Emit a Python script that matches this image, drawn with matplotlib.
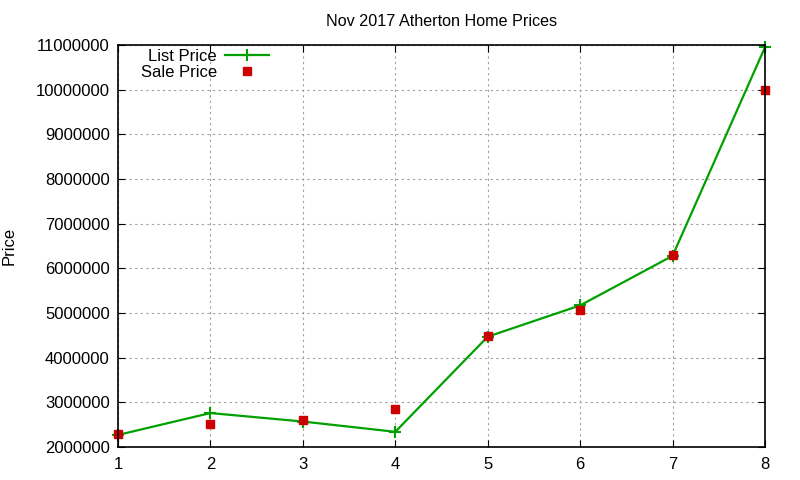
import matplotlib
matplotlib.use('Agg')
import matplotlib.pyplot as plt
from matplotlib.ticker import FuncFormatter, MultipleLocator

# data
listings = [1, 2, 3, 4, 5, 6, 7, 8]
list_price = [2270000, 2760000, 2570000, 2340000, 4470000, 5170000, 6280000, 10950000]
sale_price = [2290000, 2510000, 2610000, 2860000, 4480000, 5060000, 6290000, 10000000]

plt.rcParams['font.family'] = ['Liberation Sans', 'DejaVu Sans']

fig = plt.figure(figsize=(8, 4.8), dpi=100)
ax = fig.add_axes([118 / 800, 1 - 447 / 480, (765 - 118) / 800, (447 - 45) / 480])

ax.plot(listings, list_price, color='#00a000', lw=1.6, marker='+', ms=8, mew=1.5,
        label='List Price', clip_on=False)
ax.plot(listings, sale_price, ls='none', marker='s', ms=6, color='#cc0000',
        label='Sale Price', clip_on=False)

ax.set_xlim(1, 8)
ax.set_ylim(2000000, 11000000)
ax.yaxis.set_major_locator(MultipleLocator(1000000))
ax.yaxis.set_major_formatter(FuncFormatter(lambda v, p: '%d' % v))
ax.set_xticks(listings)

ax.grid(True, color='#a0a0a0', ls=(0, (2, 3)), lw=0.8)
ax.tick_params(direction='in', top=True, right=True, labelsize=12, length=5)
ax.tick_params(axis='x', pad=7)
ax.tick_params(axis='y', pad=6)
for s in ax.spines.values():
    s.set_linewidth(1.2)

ax.set_title('Nov 2017 Atherton Home Prices', fontsize=11.6, pad=14)
ax.set_ylabel('Price', fontsize=12, labelpad=14)

ax.legend(loc='upper left', frameon=False, markerfirst=False, fontsize=12,
          handlelength=2.6, handletextpad=0.5, borderaxespad=0.2, labelspacing=0.05,
          bbox_to_anchor=(0.02, 1.015))

fig.savefig('out.png', dpi=100)
